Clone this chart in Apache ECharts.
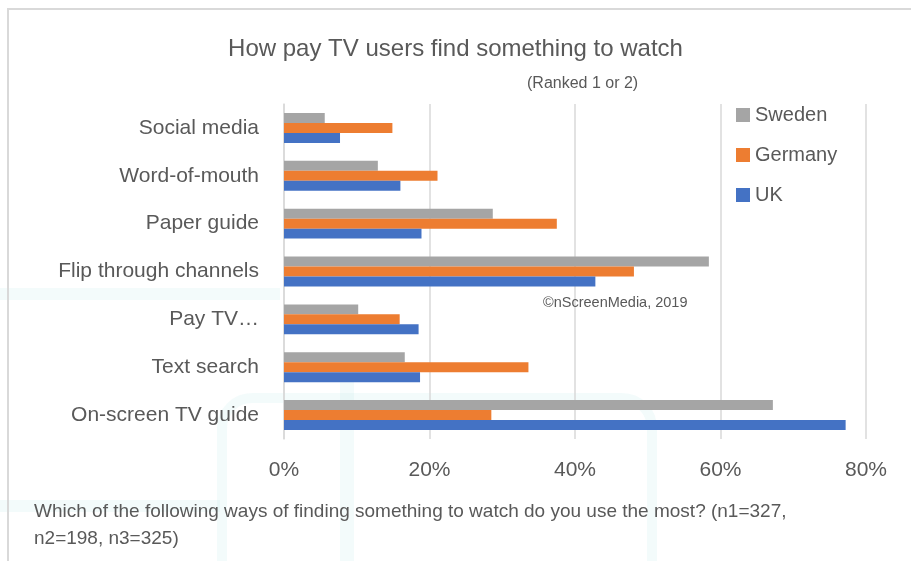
<!DOCTYPE html>
<html>
<head>
<meta charset="utf-8">
<script src="https://cdn.jsdelivr.net/npm/echarts@6/dist/echarts.min.js"></script>
<style>
html,body{margin:0;padding:0;background:#fff;}
#chart{width:911px;height:561px;}
</style>
</head>
<body>
<div id="chart"></div>
<script>
// Categories listed top to bottom
var categories = ['Social media', 'Word-of-mouth', 'Paper guide', 'Flip through channels', 'Pay TV…', 'Text search', 'On-screen TV guide'];
var sweden  = [5.6, 12.9, 28.7, 58.4, 10.2, 16.6, 67.2];
var germany = [14.9, 21.1, 37.5, 48.1, 15.9, 33.6, 28.5];
var uk      = [7.7, 16.0, 18.9, 42.8, 18.5, 18.7, 77.2];
var xTicks  = [0, 20, 40, 60, 80];

var FONT = 'Liberation Sans, Arial, sans-serif';
var TXT = '#595959';
var WM = 'rgba(190,232,232,0.18)';

var chart = echarts.init(document.getElementById('chart'), null, {renderer: 'canvas'});
chart.setOption({
  backgroundColor: '#ffffff',
  animation: false,
  textStyle: {fontFamily: FONT, color: TXT},
  title: {
    text: 'How pay TV users find something to watch',
    left: 'center',
    top: 32,
    textStyle: {fontFamily: FONT, fontSize: 24, fontWeight: 'normal', color: TXT}
  },
  legend: {
    data: ['Sweden', 'Germany', 'UK'],
    orient: 'vertical',
    left: 731,
    top: 100,
    itemWidth: 14,
    itemHeight: 14,
    itemGap: 20,
    icon: 'rect',
    textStyle: {fontFamily: FONT, fontSize: 20, color: TXT, lineHeight: 20}
  },
  grid: {left: 284, right: 45, top: 104, bottom: 122, containLabel: false},
  xAxis: {
    type: 'value',
    min: xTicks[0],
    max: xTicks[xTicks.length - 1],
    interval: 20,
    axisLine: {show: false},
    axisTick: {show: false},
    splitLine: {show: true, lineStyle: {color: '#d9d9d9', width: 1.5}},
    axisLabel: {formatter: '{value}%', fontSize: 21, color: TXT, fontFamily: FONT, margin: 21}
  },
  yAxis: {
    type: 'category',
    data: categories,
    inverse: true,
    axisLine: {show: true, lineStyle: {color: '#d9d9d9', width: 1.5}},
    axisTick: {show: false},
    axisLabel: {fontSize: 21, color: TXT, fontFamily: FONT, margin: 25, padding: [3, 0, 0, 0]}
  },
  series: [
    {name: 'Sweden', type: 'bar', data: sweden, itemStyle: {color: '#A5A5A5'}, barGap: '0%', barCategoryGap: '37.5%'},
    {name: 'Germany', type: 'bar', data: germany, itemStyle: {color: '#ED7D31'}, barGap: '0%', barCategoryGap: '37.5%'},
    {name: 'UK', type: 'bar', data: uk, itemStyle: {color: '#4472C4'}, barGap: '0%', barCategoryGap: '37.5%'}
  ],
  graphic: [
    // faint watermark shapes
    {type: 'rect', z: -10, silent: true, shape: {x: 0, y: 288, width: 280, height: 12}, style: {fill: WM}},
    {type: 'rect', z: -10, silent: true, shape: {x: 222, y: 398, width: 430, height: 200, r: 30}, style: {fill: 'none', stroke: WM, lineWidth: 10}},
    {type: 'rect', z: -10, silent: true, shape: {x: 340, y: 380, width: 14, height: 200}, style: {fill: WM}},
    {type: 'rect', z: -10, silent: true, shape: {x: 0, y: 500, width: 220, height: 12}, style: {fill: WM}},
    // chart frame
    {type: 'polyline', z: 10, silent: true, shape: {points: [[8, 600], [8, 9], [920, 9]]}, style: {stroke: '#d9d9d9', lineWidth: 2, fill: 'none'}},
    {type: 'text', z: 10, left: 527, top: 76, style: {text: '(Ranked 1 or 2)', font: '16px ' + FONT, fill: TXT}},
    {type: 'text', z: 10, left: 543, top: 295, style: {text: '©nScreenMedia, 2019', font: '14.5px ' + FONT, fill: TXT}},
    {type: 'text', z: 10, left: 34, top: 498, style: {text: 'Which of the following ways of finding something to watch do you use the most? (n1=327,\nn2=198, n3=325)', font: '19px ' + FONT, fill: TXT, lineHeight: 27}}
  ]
});
</script>
</body>
</html>
